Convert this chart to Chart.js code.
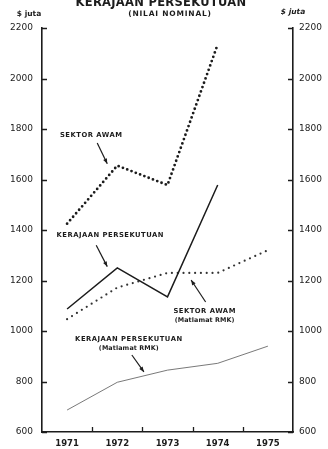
<!DOCTYPE html>
<html>
<head>
<meta charset="utf-8">
<script src="https://cdn.jsdelivr.net/npm/chart.js@4/dist/chart.umd.min.js"></script>
<style>
  html, body { margin: 0; padding: 0; background: #ffffff; }
  #wrap { position: relative; width: 328px; height: 449px; }
</style>
</head>
<body>
<div id="wrap"><canvas id="c" width="328" height="449"></canvas></div>
<script>
// Perbelanjaan pembangunan, $ juta (nilai nominal)
const years = ['1971', '1972', '1973', '1974', '1975'];
const sektorAwam = [1425, 1655, 1578, 2135, null];
const kerajaanPersekutuan = [1087, 1250, 1135, 1578, null];
const sektorAwamRMK = [1047, 1172, 1230, 1230, 1320];
const kerajaanPersekutuanRMK = [687, 797, 845, 872, 940];
const yTicks = [600, 800, 1000, 1200, 1400, 1600, 1800, 2000, 2200];

const INK = '#1c1c1c';
const FONT = '"DejaVu Sans", sans-serif';

// Labels with arrows, anchored in data space (x = category index, y = value)
const notes = [
  { lines: ['SEKTOR AWAM'], at: [0.48, 1776], size: 6.8,
    arrow: { from: [0.6, 1745], to: [0.8, 1662] } },
  { lines: ['KERAJAAN PERSEKUTUAN'], at: [0.86, 1380], size: 6.8,
    arrow: { from: [0.58, 1340], to: [0.8, 1255] } },
  { lines: ['SEKTOR AWAM', '(Matlamat RMK)'], at: [2.74, 1078], size: 6.8,
    arrow: { from: [2.76, 1115], to: [2.47, 1202] } },
  { lines: ['KERAJAAN PERSEKUTUAN', '(Matlamat RMK)'], at: [1.23, 966], size: 6.8,
    arrow: { from: [1.29, 905], to: [1.53, 838] } }
];

const innerTicks = {
  id: 'innerTicks',
  afterDatasetsDraw(chart) {
    const { ctx, chartArea: a, scales } = chart;
    const x = scales.x, y = scales.y;
    ctx.save();
    ctx.strokeStyle = INK;
    ctx.lineWidth = 1.3;
    ctx.beginPath();
    yTicks.forEach(v => {
      const py = Math.round(y.getPixelForValue(v)) + 0.5;
      ctx.moveTo(a.left, py); ctx.lineTo(a.left + 5, py);
      ctx.moveTo(a.right, py); ctx.lineTo(a.right - 5, py);
    });
    for (let i = 0; i < years.length - 1; i++) {
      const px = Math.round(x.getPixelForValue(i + 0.5)) + 0.5;
      ctx.moveTo(px, a.bottom); ctx.lineTo(px, a.bottom - 5);
    }
    ctx.stroke();
    ctx.restore();
  }
};

const labelsPlugin = {
  id: 'labelsPlugin',
  afterDraw(chart) {
    const { ctx, scales } = chart;
    const x = scales.x, y = scales.y;
    const P = (p) => [x.getPixelForValue(p[0]), y.getPixelForValue(p[1])];
    ctx.save();
    ctx.fillStyle = INK;
    ctx.strokeStyle = INK;
    ctx.textAlign = 'center';

    // Title (its top runs off the page edge)
    ctx.font = 'bold 11.5px ' + FONT;
    ctx.letterSpacing = '0.3px';
    ctx.textBaseline = 'alphabetic';
    ctx.fillText('KERAJAAN PERSEKUTUAN', 161, 6);
    ctx.textBaseline = 'middle';
    ctx.font = 'bold 7.5px ' + FONT;
    ctx.letterSpacing = '0.8px';
    ctx.fillText('(NILAI NOMINAL)', 170, 14);
    ctx.letterSpacing = '0px';
    ctx.font = 'bold 7.5px ' + FONT;
    ctx.fillText('$ juta', 29, 14);
    ctx.font = 'italic bold 7.5px ' + FONT;
    ctx.fillText('$ juta', 293, 12);

    notes.forEach(n => {
      const [tx, ty] = P(n.at);
      n.lines.forEach((line, k) => {
        const caps = line === line.toUpperCase();
        ctx.font = 'bold ' + (caps ? n.size : n.size - 0.4) + 'px ' + FONT;
        ctx.letterSpacing = caps ? '0.5px' : '0.1px';
        ctx.fillText(line, tx, ty + k * 9);
      });
      ctx.letterSpacing = '0px';
      const [x0, y0] = P(n.arrow.from);
      const [x1, y1] = P(n.arrow.to);
      ctx.lineWidth = 1.2;
      ctx.beginPath(); ctx.moveTo(x0, y0); ctx.lineTo(x1, y1); ctx.stroke();
      const ang = Math.atan2(y1 - y0, x1 - x0);
      const L = 5.5, W = 0.38;
      ctx.beginPath();
      ctx.moveTo(x1, y1);
      ctx.lineTo(x1 - L * Math.cos(ang - W), y1 - L * Math.sin(ang - W));
      ctx.lineTo(x1 - L * Math.cos(ang + W), y1 - L * Math.sin(ang + W));
      ctx.closePath(); ctx.fill();
    });
    ctx.restore();
  }
};

const yAxis = (pos, width, pad) => ({
  type: 'linear', position: pos, min: 600, max: 2200,
  grid: { display: false, drawTicks: false },
  border: { display: true, color: INK, width: 1.6 },
  afterBuildTicks: s => { s.ticks = yTicks.map(v => ({ value: v })); },
  afterFit: s => { s.width = width; },
  ticks: { padding: pad, color: INK, font: { family: FONT, size: 9 }, align: 'center', crossAlign: 'near',
    callback: v => String(v) }
});

new Chart(document.getElementById('c'), {
  type: 'line',
  data: {
    labels: years,
    datasets: [
      { label: 'Sektor Awam', data: sektorAwam, borderColor: INK, borderWidth: 2.8,
        borderDash: [0, 4.6], borderCapStyle: 'round', pointRadius: 0, tension: 0, spanGaps: false },
      { label: 'Kerajaan Persekutuan', data: kerajaanPersekutuan, borderColor: INK, borderWidth: 1.5,
        pointRadius: 0, tension: 0 },
      { label: 'Sektor Awam (Matlamat RMK)', data: sektorAwamRMK, borderColor: '#333', borderWidth: 2.2,
        borderDash: [0, 5.8], borderCapStyle: 'round', pointRadius: 0, tension: 0 },
      { label: 'Kerajaan Persekutuan (Matlamat RMK)', data: kerajaanPersekutuanRMK, borderColor: '#6a6a6a', borderWidth: 0.9,
        pointRadius: 0, tension: 0 }
    ]
  },
  options: {
    responsive: false,
    animation: false,
    devicePixelRatio: 1,
    layout: { padding: { top: 28, left: 0, right: 0, bottom: 0 } },
    plugins: { legend: { display: false }, tooltip: { enabled: false }, title: { display: false } },
    scales: {
      x: {
        type: 'category', offset: true,
        grid: { display: false, drawTicks: false, offset: true },
        border: { display: true, color: INK, width: 1.6 },
        afterFit: s => { s.height = 17; },
        ticks: { padding: 7, color: INK, font: { family: FONT, size: 8.5, weight: 'bold' }, maxRotation: 0 }
      },
      y: yAxis('left', 42, 9),
      y2: yAxis('right', 35, 6)
    }
  },
  plugins: [innerTicks, labelsPlugin]
});
</script>
</body>
</html>
